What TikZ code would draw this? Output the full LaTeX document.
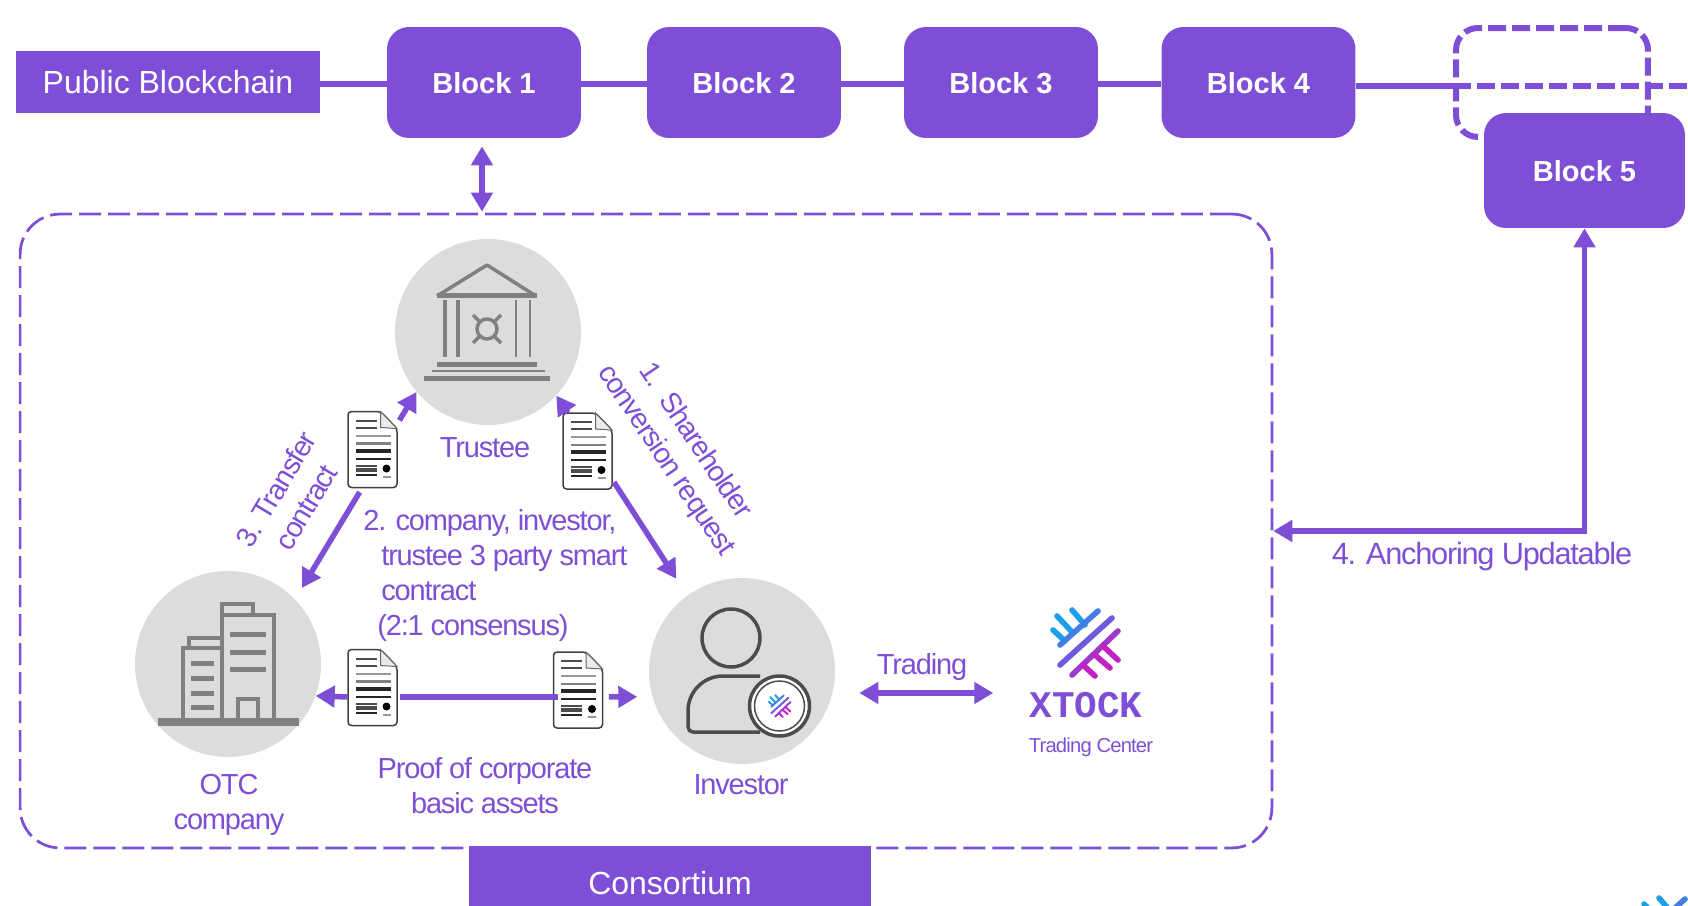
\documentclass[tikz,border=0pt]{standalone}
\usepackage{fontspec}
\usepackage{tikz}
\usetikzlibrary{arrows.meta,calc}
\setmainfont{Liberation Sans}
\setmonofont{Liberation Mono}
\newfontfamily\labelfont{Liberation Sans}[LetterSpace=-4]
\definecolor{xpurple}{HTML}{7E4FD6}
\definecolor{circlegray}{HTML}{DCDCDC}
\definecolor{icongray}{HTML}{808080}
\definecolor{xblue}{HTML}{1E9FEA}
\definecolor{xmid}{HTML}{6A5CDC}
\definecolor{xmagenta}{HTML}{C222C2}
\tikzset{
  banner/.style={fill=xpurple,text=white,inner sep=0pt,font=\fontsize{18.2}{22}\selectfont},
  block/.style={fill=xpurple,text=white,rounded corners=0.44cm,minimum width=3.88cm,minimum height=2.22cm,inner sep=0pt,text depth=0pt,font=\bfseries\fontsize{16.5}{20}\selectfont},
  party/.style={circle,fill=circlegray,minimum size=3.72cm,inner sep=0pt},
  label/.style={text=xpurple,inner sep=0pt,align=center,font=\labelfont\fontsize{16.5}{19.9}\selectfont},
  chain/.style={draw=xpurple,line width=0.12cm},
  chaindash/.style={draw=xpurple,line width=0.12cm,dash pattern=on 0.36cm off 0.12cm},
  flow/.style={draw=xpurple,line width=0.11cm,-{Triangle[length=0.38cm,width=0.42cm]}},
  flowboth/.style={draw=xpurple,line width=0.11cm,{Triangle[length=0.38cm,width=0.42cm]}-{Triangle[length=0.38cm,width=0.42cm]}},
  iconline/.style={draw=icongray,line width=0.07cm},
  iconthin/.style={draw=icongray,line width=0.05cm},
  personline/.style={draw=black!70,line width=0.07cm},
  pics/docicon/.style={code={
    \node[minimum width=0.98cm,minimum height=1.52cm,inner sep=0pt] (-box) {};
    \draw[draw=black!75,fill=white,line width=0.03cm,rounded corners=2pt] (8,-38) -- (-24.5,-38) -- (-24.5,38) -- (24.5,38) -- (24.5,-21) -- cycle;
    \draw[draw=black!60,fill=black!8,line width=0.02cm] (8,-38) -- (8,-22) -- (24.5,-21) -- cycle;
    \draw[black!70,line width=0.04cm] (-17,-29) -- (4,-29);
    \draw[black!70,line width=0.04cm] (-17,-22) -- (4,-22);
    \draw[black!40,line width=0.04cm] (-17,-14) -- (18,-14);
    \draw[black!50,line width=0.05cm] (-17,-6) -- (18,-6);
    \draw[black!85,line width=0.08cm] (-17,1) -- (18,1);
    \draw[black!85,line width=0.04cm] (-17,9) -- (18,9);
    \draw[black!70,line width=0.04cm] (-17,16) -- (4,16);
    \draw[black!70,line width=0.08cm] (-17,20) -- (4,20);
    \draw[black!85,line width=0.04cm] (-17,25) -- (4,25);
    \fill[black] (14,19) circle (0.08cm);
    \draw[black!40,line width=0.04cm] (10,27) -- (18,27);
  }},
  pics/xtocklogo/.style={code={
    \draw[xblue,line width=#1,line cap=round] (-13,-33) -- (0,-18);
    \draw[xblue,line width=#1,line cap=round] (-28,-27) -- (-12,-10);
    \draw[xblue,line width=#1,line cap=round] (-32,-13) -- (-20,-2);
    \draw[xblue!50!xmid,line width=#1,line cap=round] (-25,2) -- (13,-32);
    \draw[xmid,line width=#1,line cap=round] (-25,22) -- (27,-25);
    \draw[xmid!40!xmagenta,line width=#1,line cap=round] (-13,32) -- (33,-12);
    \draw[xmagenta,line width=#1,line cap=round] (-2,22) -- (10,33);
    \draw[xmagenta,line width=#1,line cap=round] (10,12) -- (25,25);
    \draw[xmagenta,line width=#1,line cap=round] (18,3) -- (33,17);
  }}
}
\begin{document}
\begin{tikzpicture}[x=0.02cm,y=-0.02cm]
\useasboundingbox (0,0) rectangle (1688,906);
\coordinate (liney) at (0,84);
\coordinate (chainy) at (0,85.5);
\coordinate (chainend) at (1688,85.5);
\coordinate (proofy) at (0,697);
\coordinate (tradey) at (0,693);
% top row
\node[banner,minimum width=6.08cm,minimum height=1.24cm] (public) at (168,82) {Public Blockchain};
\node[block] (block1) at (484,82.5) {Block 1};
\node[block] (block2) at (744,82.5) {Block 2};
\node[block] (block3) at (1001,82.5) {Block 3};
\node[block] (block4) at (1258.5,82.5) {Block 4};
\node[draw=xpurple,line width=0.12cm,dash pattern=on 0.36cm off 0.12cm,rounded corners=0.44cm,minimum width=3.84cm,minimum height=2.18cm,inner sep=0pt] (ghost) at (1552,82.5) {};
\draw[chain] (public.east |- liney) -- (block1.west |- liney);
\draw[chain] (block1.east |- liney) -- (block2.west |- liney);
\draw[chain] (block2.east |- liney) -- (block3.west |- liney);
\draw[chain] (block3.east |- liney) -- (block4.west |- liney);
\draw[chain] (block4.east |- chainy) -- (ghost.west |- chainy);
\draw[chaindash] (ghost.west |- chainy) -- (chainend);
\node[block,minimum width=4.02cm,minimum height=2.3cm] (block5) at (1584.5,170.5) {Block 5};
% consortium
\node[draw=xpurple,line width=0.055cm,dash pattern=on 0.44cm off 0.14cm,rounded corners=0.8cm,minimum width=25.04cm,minimum height=12.68cm,inner sep=0pt] (panel) at (646,531) {};
\node[banner,minimum width=8.04cm,minimum height=1.48cm] (consortium) at (670,883) {Consortium};
\draw[flowboth,shorten <=0.16cm,shorten >=0.02cm] ([xshift=-0.04cm]block1.south) -- ([xshift=-0.04cm]block1.south |- panel.north);
\draw[flowboth] (block5.south) |- (panel.east);
\node[label,font=\labelfont\fontsize{17.5}{21}\selectfont] (anchoring) at (1482,557) {4. Anchoring Updatable};
% parties
\node[party] (trustee) at (488,332) {};
\node[party] (otc) at (228,664) {};
\node[party] (investor) at (742,671) {};
\node[label] (trusteetext) at (485,448) {Trustee};
\node[label] (otctext) at (229,805) {OTC\\company};
\node[label] (investortext) at (741,785) {Investor};
% trustee icon
\draw[iconline,line join=round] (437,296) -- (487,265) -- (536,296);
\draw[icongray,line width=0.1cm] (437,295) -- (537,295);
\draw[iconline] (445,300) -- (445,357);
\draw[iconline] (458,300) -- (458,357);
\draw[iconthin] (516,300) -- (516,357);
\draw[iconthin] (530,300) -- (530,357);
\draw[icongray,line width=0.1cm] (437,364) -- (537,364);
\draw[iconthin] (432,371) -- (545,371);
\draw[icongray,line width=0.1cm] (424,378) -- (550,378);
\draw[iconline] (487,329) circle (0.2cm);
\draw[iconline] (473,315) -- (480,322);
\draw[iconline] (501,315) -- (494,322);
\draw[iconline] (473,343) -- (480,336);
\draw[iconline] (501,343) -- (494,336);
% otc icon
\draw[iconline,fill=circlegray] (222,722) -- (222,615) -- (274,615) -- (274,722);
\draw[iconline] (222,604) rectangle (253,615);
\draw[iconline] (183,722) -- (183,648) -- (222,648);
\draw[iconline] (189,648) -- (189,638) -- (222,638);
\foreach \winy in {634,652,669} {
  \draw[icongray,line width=0.1cm] (230,\winy) -- (266,\winy);
}
\foreach \winy in {663,678,693,707} {
  \draw[icongray,line width=0.1cm] (191,\winy) -- (214,\winy);
}
\draw[iconline] (238,722) -- (238,699) -- (258,699) -- (258,722);
\draw[icongray,line width=0.15cm] (158,722) -- (299,722);
% investor icon
\draw[personline] (731,638) circle (0.58cm);
\draw[personline,rounded corners=0.1cm] (760,732) -- (688,732) [rounded corners=0.7cm] -- (688,676) -- (760,676);
\draw[personline,fill=white] (779.5,706) circle (0.6cm);
\draw[personline,line width=0.03cm] (779.5,706) circle (0.5cm);
\pic[scale=0.33] at (779.5,706) {xtocklogo=1.1pt};
% documents
\pic (doca) at (372.5,449.5) {docicon};
\pic (docb) at (587.5,451) {docicon};
\pic (docc) at (372.5,687.5) {docicon};
\pic (docd) at (578,690) {docicon};
\draw[flow,shorten <=0.08cm] (doca-box.46) -- (trustee.220);
\draw[flow,shorten <=0.1cm,shorten >=0.26cm] (doca-box.255) -- (otc.44);
\draw[flow] (docb-box.117) -- (trustee.-43);
\draw[flow,shorten <=0.06cm,shorten >=0.4cm] (docb-box.-49) -- (investor.126);
\draw[flow] (docc-box.west |- proofy) -- (otc.-20);
\draw[chain,line width=0.11cm,shorten <=0.06cm,shorten >=-0.1cm] (docc-box.east |- proofy) -- (docd-box.west |- proofy);
\draw[flow,shorten <=0.12cm,shorten >=0.3cm] (docd-box.east |- proofy) -- (investor.196);
% texts along the triangle
\node[label,rotate=59,font=\labelfont\fontsize{16.2}{19.9}\selectfont] (transfertext) at (291,498) {3. Transfer\\contract};
\node[label,rotate=-56,font=\labelfont\fontsize{16.2}{19.9}\selectfont] (requesttext) at (680,451) {1.\ \ Shareholder\\conversion request};
\node[label,align=left,anchor=north west] (smarttext) at (363,509) {2. company, investor,\\\hspace*{0.36cm}trustee 3 party smart\\\hspace*{0.36cm}contract\\\hspace*{0.28cm}(2:1 consensus)};
\node[label] (prooftext) at (485,786) {Proof of corporate\\basic assets};
% trading center
\pic at (1085,643) {xtocklogo=3.2pt};
\node[inner sep=0pt,text=xpurple,font=\ttfamily\bfseries\fontsize{21.4}{24}\selectfont] (xtock) at (1086,705) {XTOCK};
\node[label,font=\labelfont\fontsize{11.5}{14}\selectfont] (centertext) at (1091,747) {Trading Center};
\node[label] (tradingtext) at (922,667) {Trading};
\draw[flowboth,shorten <=0.48cm,shorten >=0.72cm] (investor.east |- tradey) -- (xtock.west |- tradey);
% corner of the next logo
\begin{scope}
\clip (0,0) rectangle (1688,906);
\pic at (1672,931) {xtocklogo=3.2pt};
\end{scope}
\end{tikzpicture}
\end{document}
